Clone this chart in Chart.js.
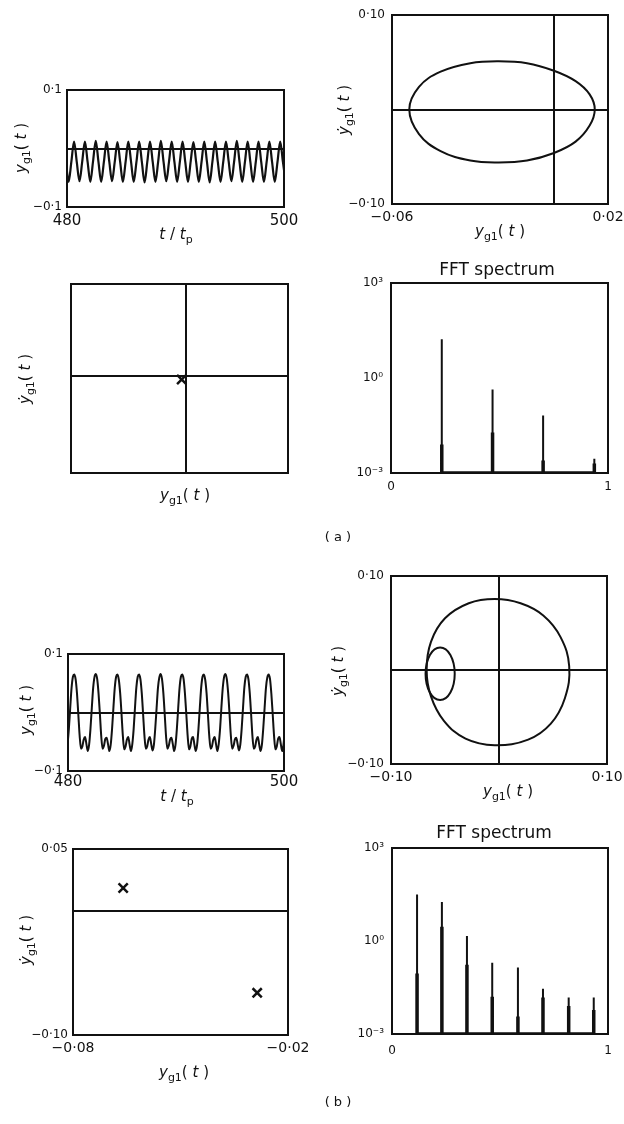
<!DOCTYPE html>
<html>
<head>
<meta charset="utf-8">
<script src="https://cdn.jsdelivr.net/npm/chart.js@4.4.0/dist/chart.umd.min.js"></script>
<style>
  body { margin: 0; background: #fff; width: 624px; height: 1124px; position: relative; overflow: hidden; }
  canvas { position: absolute; }
</style>
</head>
<body>
<script>
const INK = '#111';
const FONT = '"DejaVu Sans", sans-serif';

// (a) period-1 response y_g1 sampled every 0.25 t/tp from t = 479.9
const tStartA = 479.9, tStepA = 0.25;
const yA = [
  -0.023, -0.057, -0.023, 0.012,  -0.023, -0.056, -0.023, 0.012,
  -0.023, -0.057, -0.022, 0.013,  -0.023, -0.057, -0.023, 0.012,
  -0.023, -0.056, -0.023, 0.011,  -0.023, -0.057, -0.023, 0.012,
  -0.022, -0.057, -0.023, 0.012,  -0.023, -0.058, -0.023, 0.012,
  -0.023, -0.057, -0.023, 0.013,  -0.023, -0.056, -0.023, 0.012,
  -0.023, -0.057, -0.023, 0.012,  -0.023, -0.057, -0.022, 0.011,
  -0.023, -0.057, -0.023, 0.012,  -0.023, -0.058, -0.023, 0.012,
  -0.023, -0.057, -0.023, 0.012,  -0.022, -0.056, -0.023, 0.013,
  -0.023, -0.057, -0.023, 0.012,  -0.023, -0.057, -0.023, 0.012,
  -0.023, -0.057, -0.023, 0.012,  -0.023, -0.057, -0.023, 0.012,
  -0.023, -0.057
];

// (b) period-2 response y_g1 sampled every 0.125 t/tp from t = 479.955
const tStartB = 479.955, tStepB = 0.125;
const yB = [
  -0.055, -0.028, 0.008, 0.042, 0.061,
  0.065, 0.057, 0.033, -0.003, -0.040, -0.062, -0.058, -0.046, -0.042, -0.054, -0.066, -0.055, -0.028, 0.008, 0.042, 0.061,
  0.066, 0.057, 0.032, -0.003, -0.041, -0.062, -0.057, -0.045, -0.043, -0.054, -0.066, -0.055, -0.028, 0.008, 0.042, 0.061,
  0.065, 0.056, 0.033, -0.002, -0.040, -0.063, -0.058, -0.046, -0.042, -0.055, -0.066, -0.054, -0.028, 0.009, 0.043, 0.061,
  0.065, 0.057, 0.033, -0.003, -0.040, -0.062, -0.058, -0.046, -0.042, -0.054, -0.065, -0.055, -0.027, 0.008, 0.042, 0.060,
  0.066, 0.057, 0.033, -0.003, -0.041, -0.062, -0.057, -0.046, -0.043, -0.054, -0.066, -0.055, -0.028, 0.008, 0.042, 0.061,
  0.065, 0.057, 0.032, -0.003, -0.040, -0.063, -0.058, -0.045, -0.042, -0.055, -0.066, -0.055, -0.028, 0.008, 0.042, 0.061,
  0.065, 0.056, 0.033, -0.003, -0.040, -0.062, -0.058, -0.046, -0.042, -0.054, -0.066, -0.054, -0.028, 0.009, 0.042, 0.061,
  0.066, 0.057, 0.033, -0.002, -0.040, -0.062, -0.057, -0.046, -0.043, -0.054, -0.065, -0.055, -0.028, 0.008, 0.043, 0.061,
  0.065, 0.057, 0.033, -0.003, -0.041, -0.062, -0.058, -0.046, -0.042, -0.055, -0.066, -0.055, -0.027, 0.008, 0.042, 0.060,
  0.065, 0.057, 0.032, -0.003, -0.040, -0.063, -0.058, -0.045, -0.042, -0.054, -0.066, -0.055, -0.028, 0.008, 0.042, 0.061
];

// phase-plane orbits (y_g1, dy_g1/dt)
const orbitAy = [-0.0536, -0.0500, -0.0420, -0.0310, -0.0205, -0.0100, 0.0000, 0.0080, 0.0132, 0.0151, 0.0132, 0.0080, 0.0000, -0.0100, -0.0205, -0.0310, -0.0420, -0.0500];
const orbitAv = [0.000, 0.024, 0.040, 0.049, 0.051, 0.049, 0.041, 0.030, 0.016, 0.000, -0.017, -0.034, -0.046, -0.054, -0.056, -0.054, -0.044, -0.026];
const orbitBy = [-0.067, -0.063, -0.050, -0.028, -0.004, 0.020, 0.041, 0.057, 0.065, 0.061, 0.048, 0.027, -0.004, -0.031, -0.051, -0.063];
const orbitBv = [0.000, 0.030, 0.055, 0.071, 0.0755, 0.071, 0.058, 0.035, 0.004, -0.030, -0.057, -0.074, -0.080, -0.073, -0.054, -0.028];
const loopBy = [-0.068, -0.064, -0.0545, -0.045, -0.041, -0.045, -0.0545, -0.064];
const loopBv = [-0.004, 0.016, 0.024, 0.016, -0.004, -0.024, -0.032, -0.024];

// Poincaré section points
const sectionAy = [-0.002], sectionAv = [-0.002];
const sectionBy = [-0.066, -0.0286], sectionBv = [0.0185, -0.066];

// FFT peaks: frequency, spike top, top of the heavy base
const freqA = [0.234, 0.468, 0.701, 0.937];
const ampA = [16.6, 0.43, 0.066, 0.0028];
const baseA = [0.008, 0.019, 0.0025, 0.002];
const freqB = [0.116, 0.231, 0.347, 0.464, 0.583, 0.699, 0.818, 0.934];
const ampB = [31.6, 18, 1.45, 0.2, 0.14, 0.029, 0.015, 0.015];
const baseB = [0.09, 2.9, 0.17, 0.016, 0.0037, 0.015, 0.008, 0.006];
const FLOOR = 1e-3;

const series = (t0, dt, ys) => ys.map((y, i) => ({ x: t0 + i * dt, y }));
const pairs = (xs, ys) => xs.map((x, i) => ({ x, y: ys[i] }));
const spikes = (fs, amps) => fs.flatMap((f, i) => [{ x: f, y: FLOOR }, { x: f, y: amps[i] }, { x: f, y: FLOOR }]);

const line = (data, width, extra) => Object.assign({
  data, showLine: true, borderColor: INK, borderWidth: width, pointRadius: 0, fill: false, tension: 0
}, extra || {});

// closed orbit: wrap one point on each side so the spline stays smooth at the seam,
// then hide the two wrap segments
const orbit = (xs, ys, width) => {
  const p = pairs(xs, ys);
  const data = [p[p.length - 1], ...p, p[0], p[1]];
  const lastSeg = data.length - 2;
  return line(data, width, {
    tension: 0.4,
    segment: { borderColor: c => (c.p0DataIndex === 0 || c.p0DataIndex === lastSeg) ? 'rgba(0,0,0,0)' : INK }
  });
};
const marks = data => ({
  data, showLine: false, pointStyle: 'crossRot', pointRadius: 6.5, borderWidth: 2.5,
  borderColor: INK, backgroundColor: INK
});

// axis captions with subscripts
const yLab = [{ t: 'y', it: true }, { t: 'g1', sub: true }, { t: '( ' }, { t: 't', it: true }, { t: ' )' }];
const yDotLab = [{ t: 'ẏ', it: true }, { t: 'g1', sub: true }, { t: '( ' }, { t: 't', it: true }, { t: ' )' }];
const tLab = [{ t: 't', it: true }, { t: ' / ' }, { t: 't', it: true }, { t: 'p', sub: true }];
const fftLab = [{ t: 'FFT spectrum' }];

const captionMap = {};
const captionPlugin = {
  id: 'captions',
  afterDraw(chart) {
    const spec = captionMap[chart.canvas.id];
    if (!spec) return;
    const ctx = chart.ctx;
    spec.items.forEach(c => {
      const size = c.size || 15;
      ctx.save();
      ctx.translate(c.x - spec.left, c.y - spec.top);
      if (c.rot) ctx.rotate(-Math.PI / 2);
      ctx.fillStyle = INK;
      ctx.textBaseline = 'middle';
      const parts = c.parts.map(p => {
        const sz = p.sub ? Math.round(size * 0.7) : size;
        const font = (p.it ? 'italic ' : '') + sz + 'px ' + FONT;
        ctx.font = font;
        return { p, font, w: ctx.measureText(p.t).width };
      });
      let x = -parts.reduce((s, q) => s + q.w, 0) / 2;
      parts.forEach(q => {
        ctx.font = q.font;
        ctx.fillText(q.p.t, x, q.p.sub ? size * 0.32 : 0);
        x += q.w;
      });
      ctx.restore();
    });
  }
};

const framePlugin = {
  id: 'frame',
  afterDatasetsDraw(chart) {
    const { ctx, chartArea: a } = chart;
    ctx.save();
    ctx.strokeStyle = INK;
    ctx.lineWidth = 2;
    ctx.strokeRect(a.left, a.top, a.right - a.left, a.bottom - a.top);
    ctx.restore();
  }
};

function scale(pos, s, size) {
  return {
    type: s.log ? 'logarithmic' : 'linear',
    position: pos,
    min: s.min,
    max: s.max,
    afterBuildTicks: sc => { sc.ticks = s.ticks.map(t => ({ value: t[0] })); },
    afterFit: sc => {
      if (pos === 'bottom') { sc.height = size; sc.paddingLeft = 0; sc.paddingRight = 0; }
      else { sc.width = size; sc.paddingTop = 0; sc.paddingBottom = 0; }
    },
    ticks: {
      autoSkip: false, maxRotation: 0, minRotation: 0, padding: s.pad,
      color: INK, font: { family: FONT, size: s.font },
      callback: (v, i) => (s.ticks[i] ? s.ticks[i][1] : '')
    },
    grid: {
      drawTicks: false,
      lineWidth: 2,
      color: c => (c.tick && c.tick.value === 0 && s.zero) ? INK : 'rgba(0,0,0,0)'
    },
    border: { display: false }
  };
}

function panel(id, box, rect, cfg) {
  const cv = document.createElement('canvas');
  cv.id = id;
  cv.width = box[2] - box[0];
  cv.height = box[3] - box[1];
  cv.style.left = box[0] + 'px';
  cv.style.top = box[1] + 'px';
  document.body.appendChild(cv);
  captionMap[id] = { left: box[0], top: box[1], items: cfg.text };
  new Chart(cv, {
    type: 'scatter',
    data: { datasets: cfg.datasets },
    options: {
      responsive: false,
      animation: false,
      devicePixelRatio: 1,
      layout: { padding: { left: 0, top: rect[1] - box[1], right: box[2] - rect[2], bottom: 0 } },
      plugins: { legend: { display: false }, tooltip: { enabled: false } },
      scales: {
        x: scale('bottom', cfg.x, box[3] - rect[3]),
        y: scale('left', cfg.y, rect[0] - box[0])
      }
    },
    plugins: [framePlugin, captionPlugin]
  });
}

// ---- (a) ----
panel('a-time', [0, 60, 312, 250], [67, 90, 284, 207], {
  datasets: [line(series(tStartA, tStepA, yA), 2.2, { cubicInterpolationMode: 'monotone' })],
  x: { min: 480, max: 500, ticks: [[480, '480'], [500, '500']], font: 15, pad: 5 },
  y: { min: -0.1, max: 0.1, ticks: [[-0.1, '−0·1'], [0, ''], [0.1, '0·1']], font: 12, pad: 5, zero: true },
  text: [{ x: 22, y: 148, rot: true, parts: yLab }, { x: 176, y: 235, parts: tLab }]
});

panel('a-phase', [312, 0, 624, 250], [392, 15, 608, 204], {
  datasets: [orbit(orbitAy, orbitAv, 2)],
  x: { min: -0.06, max: 0.02, ticks: [[-0.06, '−0·06'], [0, ''], [0.02, '0·02']], font: 14, pad: 5, zero: true },
  y: { min: -0.1, max: 0.1, ticks: [[-0.1, '−0·10'], [0, ''], [0.1, '0·10']], font: 12, pad: 7, zero: true },
  text: [{ x: 345, y: 110, rot: true, parts: yDotLab }, { x: 500, y: 232, parts: yLab }]
});

panel('a-section', [0, 255, 380, 555], [71, 284, 288, 473], {
  datasets: [marks(pairs(sectionAy, sectionAv))],
  x: { min: -0.053, max: 0.047, ticks: [[0, '']], font: 14, pad: 5, zero: true },
  y: { min: -0.0515, max: 0.0485, ticks: [[0, '']], font: 12, pad: 5, zero: true },
  text: [
    { x: 26, y: 379, rot: true, parts: yDotLab },
    { x: 185, y: 496, parts: yLab },
    { x: 338, y: 538, size: 13, parts: [{ t: '( a )' }] }
  ]
});

panel('a-fft', [312, 250, 624, 515], [391, 283, 608, 473], {
  datasets: [line(spikes(freqA, ampA), 2), line(spikes(freqA, baseA), 3.5)],
  x: { min: 0, max: 1, ticks: [[0, '0'], [1, '1']], font: 12, pad: 7 },
  y: { log: true, min: 1e-3, max: 1e3, ticks: [[1e-3, '10⁻³'], [1, '10⁰'], [1e3, '10³']], font: 12, pad: 8 },
  text: [{ x: 497, y: 271, size: 17, parts: fftLab }]
});

// ---- (b) ----
panel('b-time', [0, 620, 312, 815], [68, 654, 284, 771], {
  datasets: [line(series(tStartB, tStepB, yB), 2, { cubicInterpolationMode: 'monotone' })],
  x: { min: 480, max: 500, ticks: [[480, '480'], [500, '500']], font: 15, pad: 2 },
  y: { min: -0.1, max: 0.1, ticks: [[-0.1, '−0·1'], [0, ''], [0.1, '0·1']], font: 12, pad: 5, zero: true },
  text: [{ x: 27, y: 710, rot: true, parts: yLab }, { x: 177, y: 797, parts: tLab }]
});

panel('b-phase', [312, 560, 624, 815], [391, 576, 607, 764], {
  datasets: [orbit(orbitBy, orbitBv, 2), orbit(loopBy, loopBv, 2)],
  x: { min: -0.1, max: 0.1, ticks: [[-0.1, '−0·10'], [0, ''], [0.1, '0·10']], font: 14, pad: 5, zero: true },
  y: { min: -0.1, max: 0.1, ticks: [[-0.1, '−0·10'], [0, ''], [0.1, '0·10']], font: 12, pad: 7, zero: true },
  text: [{ x: 339, y: 671, rot: true, parts: yDotLab }, { x: 508, y: 792, parts: yLab }]
});

panel('b-section', [0, 820, 380, 1124], [73, 849, 288, 1035], {
  datasets: [marks(pairs(sectionBy, sectionBv))],
  x: { min: -0.08, max: -0.02, ticks: [[-0.08, '−0·08'], [-0.02, '−0·02']], font: 14, pad: 5 },
  y: { min: -0.1, max: 0.05, ticks: [[-0.1, '−0·10'], [0, ''], [0.05, '0·05']], font: 12, pad: 5, zero: true },
  text: [
    { x: 27, y: 940, rot: true, parts: yDotLab },
    { x: 184, y: 1073, parts: yLab },
    { x: 338, y: 1103, size: 13, parts: [{ t: '( b )' }] }
  ]
});

panel('b-fft', [312, 815, 624, 1090], [392, 848, 608, 1034], {
  datasets: [line(spikes(freqB, ampB), 2), line(spikes(freqB, baseB), 3.5)],
  x: { min: 0, max: 1, ticks: [[0, '0'], [1, '1']], font: 12, pad: 10 },
  y: { log: true, min: 1e-3, max: 1e3, ticks: [[1e-3, '10⁻³'], [1, '10⁰'], [1e3, '10³']], font: 12, pad: 8 },
  text: [{ x: 494, y: 834, size: 17, parts: fftLab }]
});
</script>
</body>
</html>
